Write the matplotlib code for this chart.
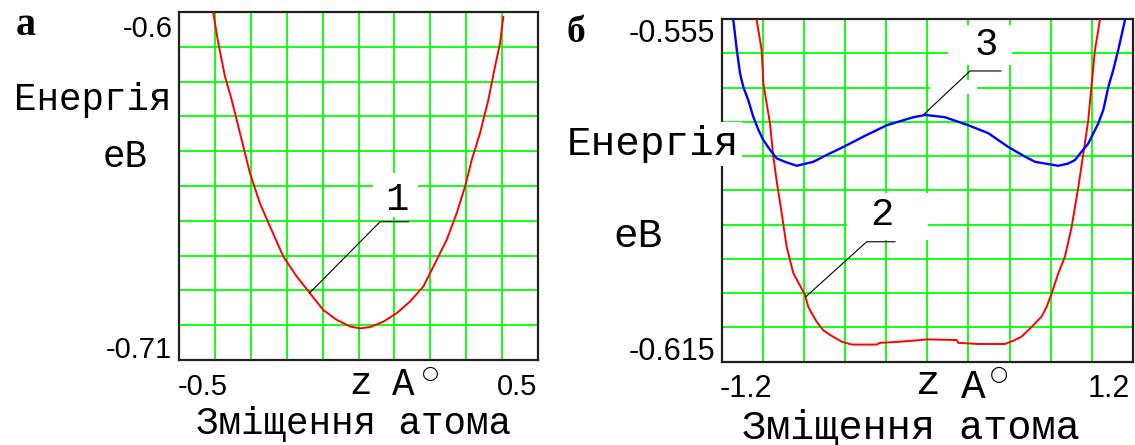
import matplotlib
matplotlib.use('Agg')
import matplotlib.pyplot as plt
from matplotlib.patches import Rectangle

# ---- data ----
# panel a, curve 1
z1 = [-0.4044, -0.3905, -0.3719, -0.3532, -0.3301, -0.3022, -0.2744, -0.2465, -0.2094, -0.1722,
      -0.1351, -0.0981, -0.0607, -0.0237, 0.0042, 0.032, 0.0691, 0.1064, 0.1435, 0.1805,
      0.2084, 0.2457, 0.2735, 0.2967, 0.3153, 0.3384, 0.3616, 0.3802, 0.3942, 0.4034]
e1 = [-0.6004, -0.6099, -0.6204, -0.6278, -0.6383, -0.6510, -0.6605, -0.6678, -0.6773, -0.6836,
      -0.6889, -0.6942, -0.6973, -0.6994, -0.7000, -0.6996, -0.6979, -0.6952, -0.6915, -0.6868,
      -0.6805, -0.6720, -0.6636, -0.6552, -0.6468, -0.6383, -0.6278, -0.6173, -0.6099, -0.6015]

# panel b, curve 2 (red)
z2 = [-0.996, -0.967, -0.957, -0.918, -0.899, -0.880, -0.850, -0.821, -0.782, -0.714, -0.695, -0.675,
      -0.646, -0.607, -0.568, -0.500, -0.441, -0.296, -0.276, -0.160, 0.0, 0.171, 0.181, 0.297, 0.453,
      0.511, 0.550, 0.609, 0.647, 0.667, 0.696, 0.726, 0.764, 0.803, 0.842, 0.881, 0.916, 0.939,
      0.959, 0.978, 1.007]
e2 = [-0.5552, -0.5604, -0.5663, -0.5733, -0.5791, -0.5832, -0.5890, -0.5949, -0.5995, -0.6033, -0.6054, -0.6065,
      -0.6080, -0.6095, -0.6103, -0.6115, -0.6120, -0.6120, -0.6117, -0.6115, -0.6111, -0.6112, -0.6117, -0.6119, -0.6119,
      -0.6112, -0.6106, -0.6089, -0.6077, -0.6071, -0.6054, -0.6030, -0.5995, -0.5966, -0.5914, -0.5844, -0.5774, -0.5727,
      -0.5663, -0.5604, -0.5552]

# panel b, curve 3 (blue)
z3 = [-1.132, -1.112, -1.093, -1.074, -1.045, -1.016, -0.986, -0.957, -0.918, -0.879, -0.831, -0.762,
      -0.665, -0.587, -0.490, -0.374, -0.237, -0.082, -0.010, 0.103, 0.239, 0.356, 0.472, 0.570,
      0.628, 0.764, 0.822, 0.861, 0.901, 0.939, 0.997, 1.027, 1.056, 1.085, 1.114, 1.153]
e3 = [-0.5552, -0.5604, -0.5645, -0.5669, -0.5692, -0.5721, -0.5744, -0.5762, -0.5779, -0.5794, -0.5800, -0.5807,
      -0.5800, -0.5788, -0.5774, -0.5756, -0.5736, -0.5722, -0.5718, -0.5722, -0.5736, -0.5750, -0.5774, -0.5791,
      -0.5800, -0.5807, -0.5803, -0.5797, -0.5782, -0.5768, -0.5733, -0.5709, -0.5669, -0.5639, -0.5604, -0.5552]

xlim_a = [-0.5, 0.5]
ylim_a = [-0.71, -0.6]
xgrid_a = [-0.4, -0.3, -0.2, -0.1, 0.0, 0.1, 0.2, 0.3, 0.4]
ygrid_a = [-0.611, -0.622, -0.633, -0.644, -0.655, -0.666, -0.677, -0.688, -0.699]

xlim_b = [-1.2, 1.2]
ylim_b = [-0.615, -0.555]
xgrid_b = [-0.96, -0.72, -0.48, -0.24, 0.0, 0.24, 0.48, 0.72, 0.96]
ygrid_b = [-0.561, -0.567, -0.573, -0.579, -0.585, -0.591, -0.597, -0.603, -0.609]

ylabel = 'Енергія'
yunit = 'еВ'
xlabel = 'Зміщення атома'

W, H = 1135, 445
mono = 'Liberation Mono'
sans = 'Liberation Sans'


def fx(px):
	return px / W


def fy(py):
	return 1 - py / H


def fmt(v):
	return '%g' % v


fig = plt.figure(figsize=(W / 100, H / 100), dpi=100)
ax1 = fig.add_axes([fx(179), fy(360), 359 / W, 348 / H])
ax2 = fig.add_axes([fx(721.7), fy(361.7), 411.3 / W, 342.7 / H])

for ax, xl, yl, xg, yg in [(ax1, xlim_a, ylim_a, xgrid_a, ygrid_a), (ax2, xlim_b, ylim_b, xgrid_b, ygrid_b)]:
	ax.set_xlim(xl)
	ax.set_ylim(yl)
	ax.set_xticks(xg)
	ax.set_yticks(yg)
	ax.tick_params(length=0, labelbottom=False, labelleft=False)
	ax.set_axisbelow(True)
	ax.grid(True, color='#00ff00', lw=1.3)
	for s in ax.spines.values():
		s.set_linewidth(1.6)
		s.set_color('#202020')

# curves
ax1.plot(z1, e1, color='#ff0000', lw=1.4, zorder=3)
ax2.plot(z2, e2, color='#ff0000', lw=1.4, zorder=3)
ax2.plot(z3, e3, color='#0000ff', lw=1.7, zorder=3)

# curve labels with white boxes and leader lines
ax1.add_patch(Rectangle((0.041, -0.6648), 0.126, 0.0139, fc='white', ec='none', zorder=1))
ax1.plot([-0.137, 0.060, 0.139], [-0.6889, -0.6663, -0.6663], color='black', lw=0.8, zorder=4)
ax1.text(0.106, -0.6626, '1', family=mono, fontsize=28, ha='center', va='baseline', zorder=5)

ax2.add_patch(Rectangle((-0.471, -0.5937), 0.472, 0.0082, fc='white', ec='none', zorder=1))
ax2.plot([-0.708, -0.354, -0.189], [-0.6036, -0.5940, -0.5940], color='black', lw=0.8, zorder=4)
ax2.text(-0.266, -0.5911, '2', family=mono, fontsize=28, ha='center', va='baseline', zorder=5)

ax2.add_patch(Rectangle((0.120, -0.5631), 0.374, 0.0070, fc='white', ec='none', zorder=1))
ax2.add_patch(Rectangle((0.015, -0.5681), 0.275, 0.0024, fc='white', ec='none', zorder=1))
ax2.plot([-0.024, 0.249, 0.430], [-0.5718, -0.5641, -0.5641], color='black', lw=0.8, zorder=4)
ax2.text(0.346, -0.5613, '3', family=mono, fontsize=28, ha='center', va='baseline', zorder=5)

# panel letters
fig.text(fx(16), fy(35), 'а', family='Liberation Serif', weight='bold', fontsize=29, va='baseline')
fig.text(fx(566), fy(41.7), 'б', family='Liberation Serif', weight='bold', fontsize=27, va='baseline')

# axis end labels
tk = dict(family=sans, va='baseline')
fig.text(fx(173), fy(36.7), fmt(ylim_a[1]), ha='right', fontsize=21, **tk)
fig.text(fx(172), fy(358), fmt(ylim_a[0]), ha='right', fontsize=21, **tk)
fig.text(fx(178), fy(395), fmt(xlim_a[0]), ha='left', fontsize=21, **tk)
fig.text(fx(537), fy(395), fmt(xlim_a[1]), ha='right', fontsize=21, **tk)
fig.text(fx(715), fy(41.7), fmt(ylim_b[1]), ha='right', fontsize=22, **tk)
fig.text(fx(715), fy(360), fmt(ylim_b[0]), ha='right', fontsize=22, **tk)
fig.text(fx(720), fy(396.7), fmt(xlim_b[0]), ha='left', fontsize=22, **tk)
fig.text(fx(1130), fy(396.7), fmt(xlim_b[1]), ha='right', fontsize=22, **tk)

# axis titles, panel a
fig.text(fx(92.5), fy(110), ylabel, family=mono, fontsize=27, ha='center', va='baseline')
fig.text(fx(125), fy(166.7), yunit, family=mono, fontsize=27, ha='center', va='baseline')
fig.text(fx(360), fy(394), 'z', family=mono, fontsize=27, ha='center', va='baseline')
fig.text(fx(403), fy(395), 'A', family=mono, fontsize=27, ha='center', va='baseline')
fig.text(fx(430), fy(373), '○', family='DejaVu Sans', fontsize=14, ha='center', va='center')
fig.text(fx(353.5), fy(434), xlabel, family=mono, fontsize=27, ha='center', va='baseline')

# axis titles, panel b
fig.text(fx(652.5), fy(155), ylabel, family=mono, fontsize=29.5, ha='center', va='baseline', zorder=10,
	bbox=dict(fc='white', ec='none', pad=2))
fig.text(fx(638), fy(246.7), yunit, family=mono, fontsize=29.5, ha='center', va='baseline')
fig.text(fx(928.5), fy(394), 'z', family=mono, fontsize=29.5, ha='center', va='baseline')
fig.text(fx(973), fy(398), 'A', family=mono, fontsize=29.5, ha='center', va='baseline')
fig.text(fx(999), fy(374), '○', family='DejaVu Sans', fontsize=15, ha='center', va='center')
fig.text(fx(910.5), fy(439), xlabel, family=mono, fontsize=29, ha='center', va='baseline')

fig.savefig('out.png', dpi=100)
